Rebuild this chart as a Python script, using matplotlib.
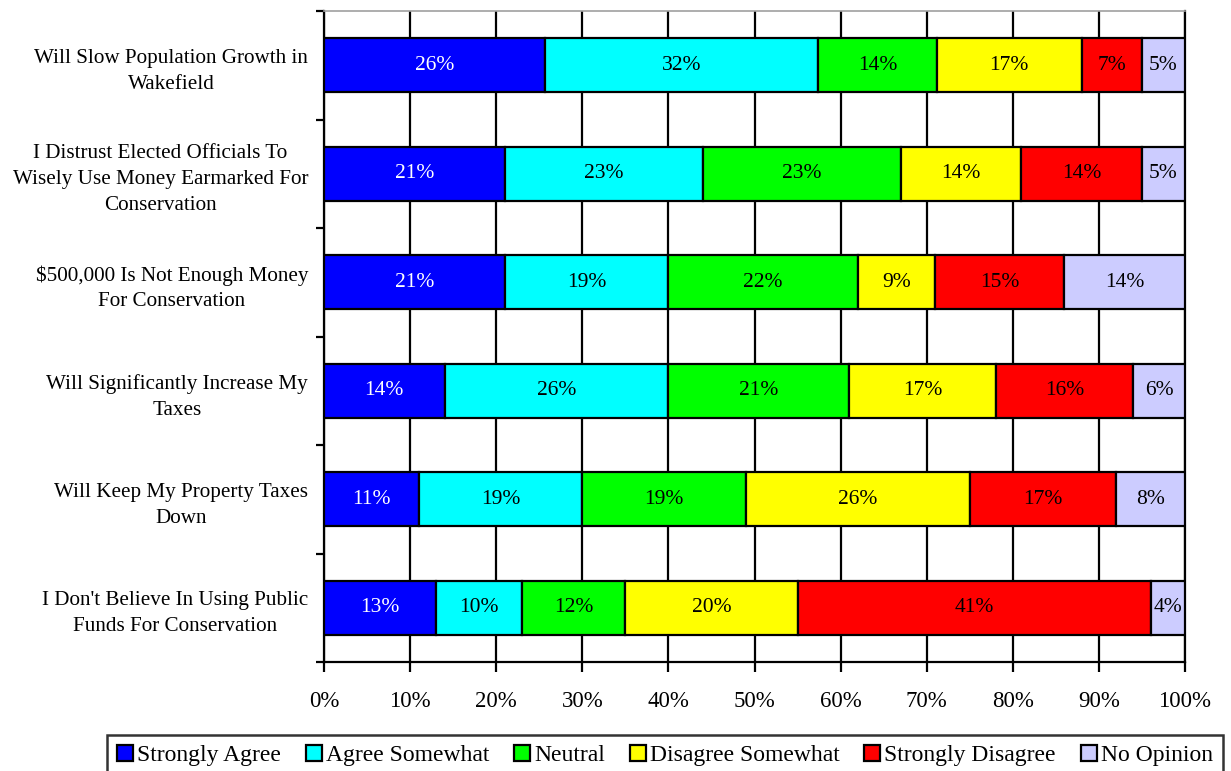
import matplotlib
matplotlib.use("Agg")
import matplotlib.pyplot as plt
import numpy as np

plt.rcParams['font.family'] = ['Liberation Serif', 'DejaVu Serif']

# survey statements, top to bottom
categories = [
    "Will Slow Population Growth in\nWakefield",
    "I Distrust Elected Officials To\nWisely Use Money Earmarked For\nConservation",
    "$500,000 Is Not Enough Money\nFor Conservation",
    "Will Significantly Increase My\nTaxes",
    "Will Keep My Property Taxes\nDown",
    "I Don't Believe In Using Public\nFunds For Conservation",
]
series_names = ["Strongly Agree", "Agree Somewhat", "Neutral",
                "Disagree Somewhat", "Strongly Disagree", "No Opinion"]
strongly_agree = [25.7, 21, 21, 14, 11, 13]
agree_somewhat = [31.7, 23, 19, 26, 19, 10]
neutral = [13.8, 23, 22, 21, 19, 12]
disagree_somewhat = [16.8, 14, 9, 17, 26, 20]
strongly_disagree = [7.0, 14, 15, 16, 17, 41]
no_opinion = [5.0, 5, 14, 6, 8, 4]

colors = ["#0000ff", "#00ffff", "#00ff00", "#ffff00", "#ff0000", "#ccccff"]
text_colors = ["white", "black", "black", "black", "black", "black"]

data = np.array([strongly_agree, agree_somewhat, neutral,
                 disagree_somewhat, strongly_disagree, no_opinion])

fig = plt.figure(figsize=(12.31, 7.71), dpi=100)
ax = fig.add_axes([324 / 1231, 1 - 662 / 771, (1185 - 324) / 1231, (662 - 11) / 771])

n = len(categories)
y = np.arange(n)
left = np.zeros(n)
for i, name in enumerate(series_names):
    vals = data[i]
    ax.barh(y, vals, left=left, height=0.5, color=colors[i],
            edgecolor="black", linewidth=1.6, label=name, zorder=3)
    for j in range(n):
        ax.text(left[j] + vals[j] / 2, y[j], f"{vals[j]:.0f}%",
                ha="center", va="center", fontsize=15.5,
                color=text_colors[i], zorder=4)
    left += vals

ax.set_xlim(0, 100)
ax.set_ylim(n - 0.5, -0.5)
ax.set_xticks(np.arange(0, 101, 10))
ax.set_xticklabels([f"{v}%" for v in range(0, 101, 10)], fontsize=16.5)
ax.xaxis.grid(True, color="black", linewidth=1.6, zorder=0)
ax.set_axisbelow(True)

# category labels sit between the boundary ticks
ax.set_yticks(np.arange(-0.5, n, 1.0))
ax.set_yticklabels([])
ax.set_yticks(y, minor=True)
ax.set_yticklabels(categories, minor=True, fontsize=15.2, ha="right",
                   multialignment="center", linespacing=1.5)
ax.tick_params(axis="y", which="minor", length=0, pad=11.5)
ax.tick_params(axis="y", which="major", length=6, width=1.6, direction="out")
ax.tick_params(axis="x", length=7, width=1.6, direction="out", pad=14)

for side in ["left", "bottom", "right"]:
    ax.spines[side].set_linewidth(1.6)
    ax.spines[side].set_color("black")
ax.spines["top"].set_color("#a0a0a0")
ax.spines["top"].set_linewidth(1.2)

leg = fig.legend(loc="upper left", bbox_to_anchor=(107 / 1231, 1 - 735 / 771),
                 ncol=6, fontsize=17, frameon=True, fancybox=False,
                 edgecolor="black", handlelength=0.68, handleheight=0.68,
                 handletextpad=0.17, columnspacing=1.05, borderpad=0.42,
                 borderaxespad=0)
leg.get_frame().set_linewidth(1.8)

fig.savefig("out.png", dpi=100)
